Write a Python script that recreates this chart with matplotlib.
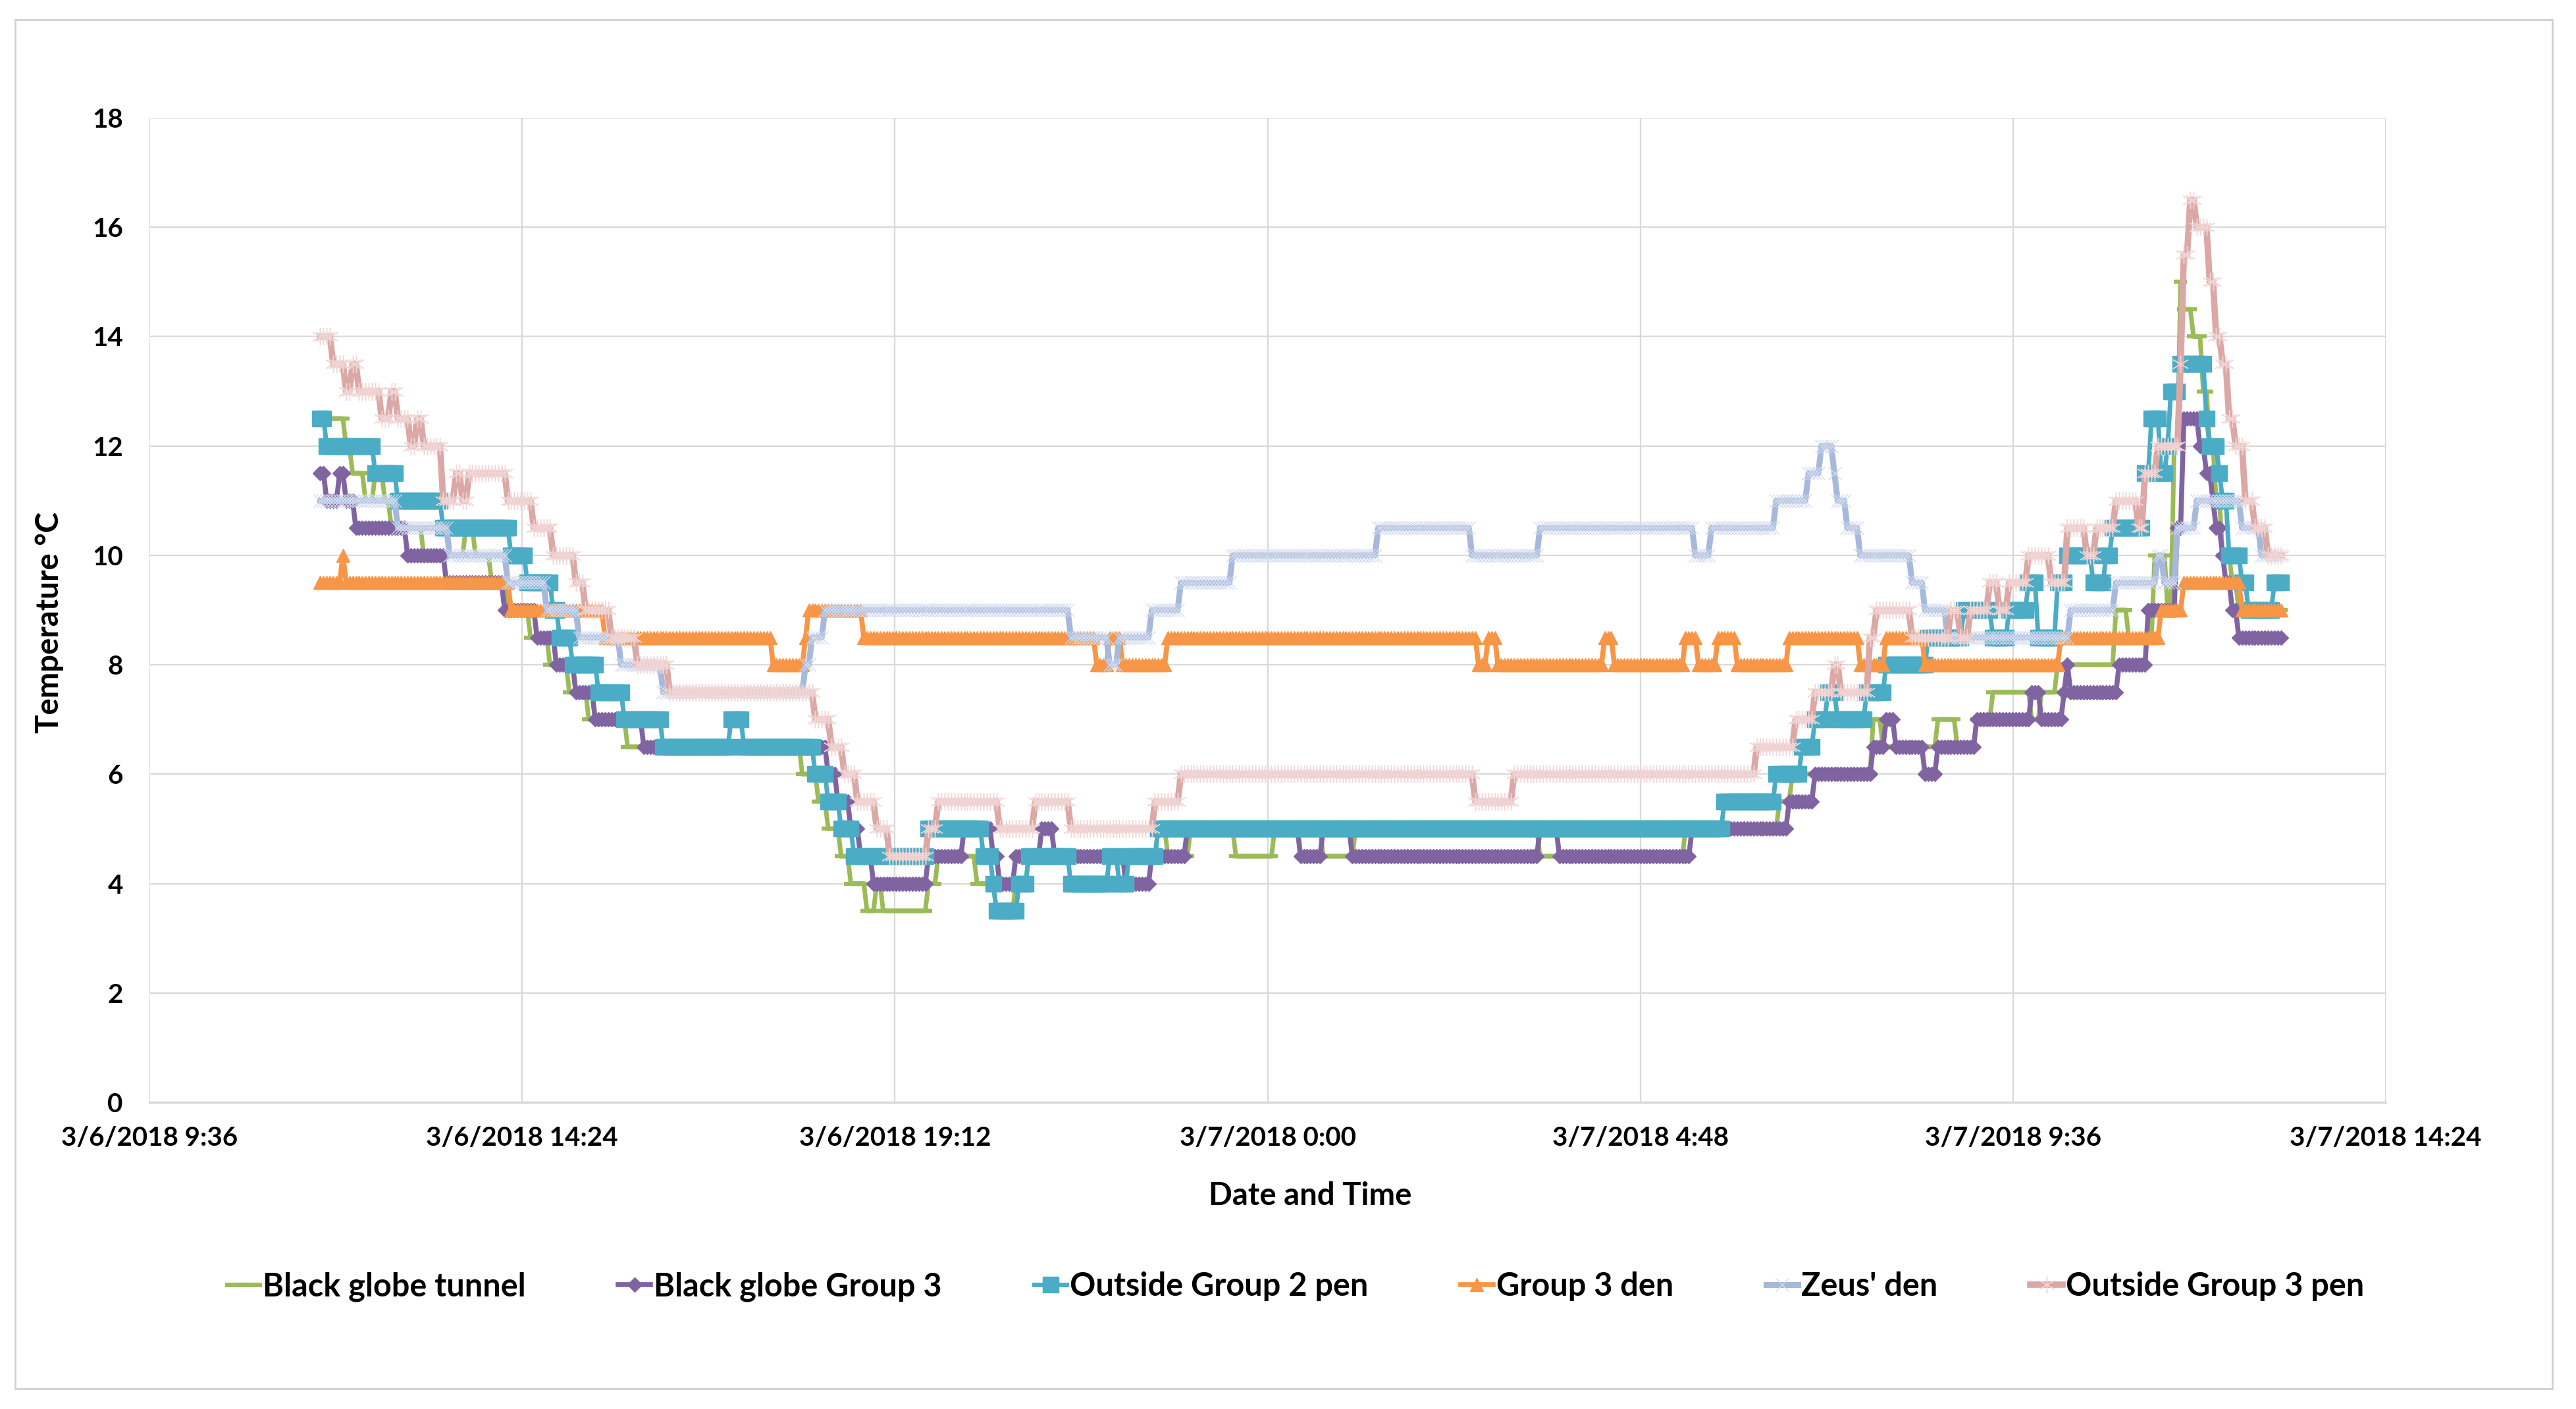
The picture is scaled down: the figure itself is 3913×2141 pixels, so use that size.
import matplotlib
matplotlib.use('Agg')
import matplotlib.pyplot as plt
import matplotlib.dates as mdates
from matplotlib.patches import Rectangle
import numpy as np
from datetime import datetime, timedelta

plt.rcParams['font.family'] = ['Lato', 'DejaVu Sans']
plt.rcParams['font.weight'] = 'bold'

# logger readings, stored as (time of change, value held until next change)
START = '6 11:48'
END = '7 13:04'
STEP_MIN = 2.5

green_at = ['6 11:58', '6 12:06', '6 12:12', '6 12:22', '6 12:30', '6 12:36', '6 12:42', '6 13:08',
            '6 13:40', '6 13:47', '6 14:00', '6 14:12', '6 14:30', '6 14:45', '6 15:00', '6 15:15',
            '6 15:45', '6 18:00', '6 18:12', '6 18:20', '6 18:30', '6 18:38', '6 18:50', '6 18:58',
            '6 19:02', '6 19:37', '6 19:45', '6 20:15', '6 20:30', '6 20:45', '6 20:55', '6 22:34',
            '6 22:43', '6 22:59', '6 23:35', '7 00:05', '7 00:43', '7 01:06', '7 03:30', '7 05:22',
            '7 06:35', '7 06:45', '7 07:46', '7 07:54', '7 08:38', '7 08:52', '7 09:08', '7 09:20',
            '7 09:50', '7 09:58', '7 10:10', '7 10:54', '7 11:04', '7 11:24', '7 11:34', '7 11:40',
            '7 11:44', '7 11:48', '7 11:54', '7 12:02', '7 12:08', '7 12:12', '7 12:18', '7 12:24',
            '7 12:30']
green_c = [12.5, 12.0, 11.5, 11.0, 11.5, 11.0, 10.5, 10.0,
           10.5, 10.0, 9.5, 9.0, 8.5, 8.0, 7.5, 7.0,
           6.5, 6.0, 5.5, 5.0, 4.5, 4.0, 3.5, 4.0,
           3.5, 4.0, 4.5, 4.0, 3.5, 4.0, 4.5, 5.0,
           4.5, 5.0, 4.5, 5.0, 4.5, 5.0, 4.5, 5.0,
           5.5, 6.0, 7.0, 6.5, 7.0, 6.5, 7.0, 7.5,
           7.0, 7.5, 8.0, 9.0, 8.5, 10.0, 9.0, 12.0,
           15.0, 14.5, 14.0, 13.0, 12.0, 11.0, 10.0, 9.5,
           9.0]

purple_at = ['6 11:48', '6 11:52', '6 12:02', '6 12:07', '6 12:14', '6 12:54', '6 13:24', '6 14:10',
             '6 14:35', '6 14:50', '6 15:05', '6 15:20', '6 15:58', '6 18:20', '6 18:28', '6 18:38',
             '6 18:44', '6 18:54', '6 19:38', '6 20:05', '6 20:28', '6 20:32', '6 20:44', '6 21:04',
             '6 21:15', '6 22:10', '6 22:30', '6 22:58', '7 00:25', '7 00:43', '7 01:05', '7 03:30',
             '7 03:45', '7 05:27', '7 06:42', '7 07:02', '7 07:47', '7 07:56', '7 08:05', '7 08:26',
             '7 08:36', '7 09:08', '7 09:49', '7 09:56', '7 10:14', '7 10:16', '7 10:20', '7 10:56',
             '7 11:20', '7 11:42', '7 11:46', '7 12:00', '7 12:05', '7 12:09', '7 12:13', '7 12:16',
             '7 12:20', '7 12:24', '7 12:30']
purple_c = [11.5, 11.0, 11.5, 11.0, 10.5, 10.0, 9.5, 9.0,
            8.5, 8.0, 7.5, 7.0, 6.5, 6.0, 5.5, 5.0,
            4.5, 4.0, 4.5, 5.0, 4.5, 4.0, 4.5, 5.0,
            4.5, 4.0, 4.5, 5.0, 4.5, 5.0, 4.5, 5.0,
            4.5, 5.0, 5.5, 6.0, 6.5, 7.0, 6.5, 6.0,
            6.5, 7.0, 7.5, 7.0, 7.5, 8.0, 7.5, 8.0,
            9.0, 10.5, 12.5, 12.0, 11.5, 11.0, 10.5, 10.0,
            9.5, 9.0, 8.5]

teal_at = ['6 11:48', '6 11:52', '6 12:29', '6 12:48', '6 13:23', '6 14:14', '6 14:27', '6 14:47',
           '6 14:52', '6 15:02', '6 15:23', '6 15:42', '6 16:13', '6 17:04', '6 17:14', '6 18:10',
           '6 18:20', '6 18:30', '6 18:40', '6 19:36', '6 20:20', '6 20:26', '6 20:29', '6 20:48',
           '6 20:55', '6 21:26', '6 21:58', '6 22:05', '6 22:12', '6 22:34', '7 05:52', '7 06:32',
           '7 06:52', '7 07:02', '7 07:12', '7 07:20', '7 07:42', '7 07:56', '7 08:30', '7 08:58',
           '7 09:20', '7 09:32', '7 09:46', '7 09:54', '7 10:10', '7 10:16', '7 10:38', '7 10:46',
           '7 10:52', '7 11:16', '7 11:22', '7 11:30', '7 11:34', '7 11:38', '7 11:44', '7 12:04',
           '7 12:08', '7 12:14', '7 12:18', '7 12:22', '7 12:32', '7 12:36', '7 12:56']
teal_c = [12.5, 12.0, 11.5, 11.0, 10.5, 10.0, 9.5, 9.0,
          8.5, 8.0, 7.5, 7.0, 6.5, 7.0, 6.5, 6.0,
          5.5, 5.0, 4.5, 5.0, 4.5, 4.0, 3.5, 4.0,
          4.5, 4.0, 4.5, 4.0, 4.5, 5.0, 5.5, 6.0,
          6.5, 7.0, 7.5, 7.0, 7.5, 8.0, 8.5, 9.0,
          8.5, 9.0, 9.5, 8.5, 9.5, 10.0, 9.5, 10.0,
          10.5, 11.5, 12.5, 11.5, 12.0, 13.0, 13.5, 12.5,
          12.0, 11.5, 11.0, 10.0, 9.5, 9.0, 9.5]

orange_at = ['6 11:48', '6 12:04', '6 12:08', '6 14:14', '6 15:27', '6 17:38', '6 18:01', '6 18:05',
             '6 18:46', '6 21:47', '6 21:58', '6 22:06', '6 22:43', '7 02:41', '7 02:50', '7 02:56',
             '7 04:20', '7 04:28', '7 05:21', '7 05:33', '7 05:46', '7 06:02', '7 06:42', '7 07:38',
             '7 07:56', '7 08:26', '7 10:12', '7 11:30', '7 11:48', '7 12:32']
orange_c = [9.5, 10.0, 9.5, 9.0, 8.5, 8.0, 8.5, 9.0,
            8.5, 8.0, 8.5, 8.0, 8.5, 8.0, 8.5, 8.0,
            8.5, 8.0, 8.5, 8.0, 8.5, 8.0, 8.5, 8.0,
            8.5, 8.0, 8.5, 9.0, 9.5, 9.0]

zeus_at = ['6 11:48', '6 12:46', '6 13:26', '6 14:12', '6 14:43', '6 15:07', '6 15:40', '6 16:12',
           '6 18:02', '6 18:08', '6 18:16', '6 21:26', '6 21:57', '6 22:05', '6 22:30', '6 22:51',
           '6 23:32', '7 01:25', '7 02:36', '7 03:29', '7 05:30', '7 05:42', '7 06:31', '7 06:56',
           '7 07:06', '7 07:16', '7 07:20', '7 07:26', '7 07:38', '7 08:16', '7 08:28', '7 08:45',
           '7 10:20', '7 10:54', '7 11:27', '7 11:33', '7 11:42', '7 11:57', '7 12:31', '7 12:46']
zeus_c = [11.0, 10.5, 10.0, 9.5, 9.0, 8.5, 8.0, 7.5,
          8.0, 8.5, 9.0, 8.5, 8.0, 8.5, 9.0, 9.5,
          10.0, 10.5, 10.0, 10.5, 10.0, 10.5, 11.0, 11.5,
          12.0, 11.5, 11.0, 10.5, 10.0, 9.5, 9.0, 8.5,
          9.0, 9.5, 10.0, 9.5, 10.5, 11.0, 10.5, 10.0]

pink_at = ['6 11:48', '6 11:56', '6 12:08', '6 12:12', '6 12:18', '6 12:35', '6 12:42', '6 12:46',
           '6 12:58', '6 13:03', '6 13:07', '6 13:22', '6 13:33', '6 13:37', '6 13:43', '6 14:12',
           '6 14:32', '6 14:47', '6 15:04', '6 15:13', '6 15:31', '6 15:52', '6 16:16', '6 18:09',
           '6 18:22', '6 18:32', '6 18:42', '6 18:56', '6 19:07', '6 19:37', '6 19:45', '6 20:32',
           '6 20:59', '6 21:26', '6 22:31', '6 22:52', '7 02:40', '7 03:10', '7 06:16', '7 06:46',
           '7 07:02', '7 07:16', '7 07:22', '7 07:45', '7 07:50', '7 08:16', '7 08:46', '7 08:54',
           '7 09:02', '7 09:17', '7 09:25', '7 09:31', '7 09:48', '7 10:05', '7 10:17', '7 10:33',
           '7 10:39', '7 10:55', '7 11:13', '7 11:18', '7 11:26', '7 11:44', '7 11:47', '7 11:51',
           '7 11:58', '7 12:07', '7 12:11', '7 12:16', '7 12:22', '7 12:28', '7 12:34', '7 12:41',
           '7 12:52']
pink_c = [14.0, 13.5, 13.0, 13.5, 13.0, 12.5, 13.0, 12.5,
          12.0, 12.5, 12.0, 11.0, 11.5, 11.0, 11.5, 11.0,
          10.5, 10.0, 9.5, 9.0, 8.5, 8.0, 7.5, 7.0,
          6.5, 6.0, 5.5, 5.0, 4.5, 5.0, 5.5, 5.0,
          5.5, 5.0, 5.5, 6.0, 5.5, 6.0, 6.5, 7.0,
          7.5, 8.0, 7.5, 8.5, 9.0, 8.5, 9.0, 8.5,
          9.0, 9.5, 9.0, 9.5, 10.0, 9.5, 10.5, 10.0,
          10.5, 11.0, 10.5, 11.5, 12.0, 13.5, 15.5, 16.5,
          16.0, 15.0, 14.0, 13.5, 12.5, 12.0, 11.0, 10.5,
          10.0]

labels = ['Black globe tunnel', 'Black globe Group 3', 'Outside Group 2 pen',
          'Group 3 den', "Zeus' den", 'Outside Group 3 pen']


def when(s):
    day, hm = s.split()
    h, m = hm.split(':')
    return datetime(2018, 3, int(day), int(h), int(m))


def readings(changes, values):
    t0 = when(START)
    n = int((when(END) - t0).total_seconds() // (STEP_MIN * 60)) + 1
    t = mdates.date2num([t0 + timedelta(minutes=STEP_MIN * i) for i in range(n)])
    ct = mdates.date2num([when(c) for c in changes])
    idx = np.searchsorted(ct, t, side='right') - 1
    keep = idx >= 0
    return t[keep], np.asarray(values)[idx[keep]]


W, H = 3913, 2141
fig = plt.figure(figsize=(W / 100, H / 100), dpi=100)
ax = fig.add_axes([227 / W, 1 - 1675 / H, (3624 - 227) / W, (1675 - 179) / H])

styles = [
    dict(color='#9BBB59', lw=5, marker='_', ms=15, mew=4.5),
    dict(color='#8064A2', lw=5.5, marker='D', ms=11.5),
    dict(color='#4BACC6', lw=5, marker='s', ms=17.5),
    dict(color='#F79646', lw=5.5, marker='^', ms=14.5),
    dict(color='#A7B9DB', lw=6.5, marker='x', ms=14, mew=1.0, mec='#D3DBEE'),
    dict(color='#DBA8A6', lw=7, marker=(6, 2, 0), ms=19, mew=1.0, mec='#F0D5D4'),
]
series = [(green_at, green_c), (purple_at, purple_c), (teal_at, teal_c),
          (orange_at, orange_c), (zeus_at, zeus_c), (pink_at, pink_c)]

handles = []
for (at, c), st, lab in zip(series, styles, labels):
    t, v = readings(at, c)
    h, = ax.plot(t, v, label=lab, **st)
    handles.append(h)

x0 = datetime(2018, 3, 6, 9, 36)
ticks = [x0 + timedelta(hours=4.8 * k) for k in range(7)]
ax.set_xlim(mdates.date2num(ticks[0]), mdates.date2num(ticks[-1]))
ax.set_xticks(mdates.date2num(ticks))
ax.set_xticklabels([f'{d.month}/{d.day}/{d.year} {d.hour}:{d.minute:02d}' for d in ticks])
ax.set_ylim(0, 18)
ax.set_yticks(range(0, 19, 2))

ax.set_axisbelow(True)
ax.grid(True, color='#d9d9d9', lw=1.6)
for s in ['top', 'right', 'left']:
    ax.spines[s].set_visible(False)
ax.spines['bottom'].set_color('#d9d9d9')
ax.spines['bottom'].set_linewidth(2.4)
ax.tick_params(length=0, labelsize=29)
ax.tick_params(axis='y', pad=29)
ax.tick_params(axis='x', pad=26)

fig.text(1990 / W, 1 - 1817 / H, 'Date and Time', ha='center', va='center', fontsize=34)
fig.text(75 / W, 1 - 946 / H, 'Temperature °C', ha='center', va='center', rotation=90, fontsize=34)

fig.legend(handles, labels, loc='center', bbox_to_anchor=(0.503, 1 - 1955 / H), ncol=6,
           frameon=False, fontsize=35, handlelength=1.0, handletextpad=0.1, columnspacing=2.9,
           numpoints=1)

fig.patches.append(Rectangle((23 / W, 1 - 2110 / H), (3877 - 23) / W, (2110 - 30) / H,
                             transform=fig.transFigure, fill=False, ec='#d0d0d0', lw=2))

fig.savefig('out.png', dpi=100)
